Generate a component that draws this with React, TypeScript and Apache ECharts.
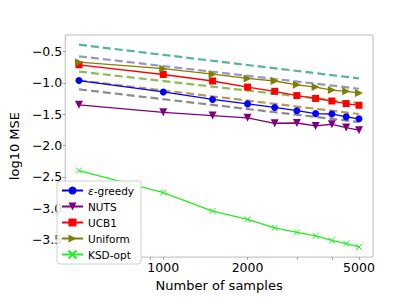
import React, { useEffect, useRef } from "react";
import * as echarts from "echarts";

const samples = [500, 1000, 1500, 2000, 2500, 3000, 3500, 4000, 4500, 5000];
const epsGreedy = [-0.964, -1.145, -1.265, -1.336, -1.393, -1.444, -1.491, -1.497, -1.543, -1.574];
const nuts = [-1.351, -1.470, -1.522, -1.559, -1.645, -1.641, -1.687, -1.661, -1.714, -1.755];
const ucb1 = [-0.712, -0.867, -0.971, -1.068, -1.135, -1.203, -1.249, -1.290, -1.331, -1.358];
const uniform = [-0.670, -0.774, -0.862, -0.929, -0.971, -1.032, -1.068, -1.115, -1.135, -1.161];
const ksdOpt = [-2.399, -2.751, -3.045, -3.178, -3.313, -3.385, -3.441, -3.514, -3.565, -3.618];

const refX = [500, 5000];
const refTeal = [-0.392, -0.929];
const refLavender = [-0.577, -1.094];
const refGreen = [-0.82, -1.324];
const refBrown = [-0.96, -1.497];
const refGray = [-1.104, -1.625];

const xLabelTicks = [1000, 2000, 5000];
const xMinorTicks = [600, 700, 800, 900, 1000, 2000, 3000, 4000, 5000];
const yTicks = [-3.5, -3, -2.5, -2, -1.5, -1, -0.5];

const FONT = "DejaVu Sans";

function pts(xs: number[], ys: number[]) {
  return xs.map((x, i) => [Math.log10(x), ys[i]]);
}

export default function App() {
  const ref = useRef<HTMLDivElement>(null);
  useEffect(() => {
    if (!ref.current) return;
    const chart = echarts.init(ref.current, undefined, { renderer: "svg" });
    const dashed = (name: string, color: string, ys: number[]) => ({
      name,
      type: "line",
      data: pts(refX, ys),
      symbol: "none",
      lineStyle: { color, width: 2.2, type: [8, 4], opacity: 0.75 },
      z: 1,
    });
    const solid = (name: string, color: string, ys: number[], symbol: string, rot: number, size: number, extra: any = {}) => ({
      name,
      type: "line",
      data: pts(samples, ys),
      symbol,
      symbolSize: size,
      symbolRotate: rot,
      showAllSymbol: true,
      color,
      lineStyle: { color, width: 1.3 },
      itemStyle: { color, ...extra },
      z: 3,
    });
    chart.setOption({
      animation: false,
      grid: {
        left: 52,
        right: 42,
        top: 35,
        bottom: 33,
        show: true,
        borderColor: "#bbbbbb",
        borderWidth: 1,
        backgroundColor: "#fff",
      },
      xAxis: {
        type: "value",
        min: 2.65,
        max: 3.749,
        name: "Number of samples",
        nameLocation: "middle",
        nameGap: 15,
        nameTextStyle: { fontFamily: FONT, fontSize: 13, color: "#000" },
        axisLine: { show: false },
        splitLine: { show: false },
        axisTick: {
          show: true,
          length: 2.5,
          lineStyle: { color: "#999" },
          customValues: xMinorTicks.map((v) => Math.log10(v)),
        },
        axisLabel: {
          customValues: xLabelTicks.map((v) => Math.log10(v)),
          formatter: (v: number) => String(Math.round(Math.pow(10, v))),
          fontFamily: FONT,
          fontSize: 12.5,
          color: "#000",
          margin: 4,
        },
      },
      yAxis: {
        type: "value",
        min: -3.78,
        max: -0.237,
        name: "log10 MSE",
        nameLocation: "middle",
        nameGap: 38,
        nameTextStyle: { fontFamily: FONT, fontSize: 13, color: "#000" },
        axisLine: { show: false },
        splitLine: { show: false },
        axisTick: {
          show: true,
          length: 2.5,
          lineStyle: { color: "#999" },
          customValues: yTicks,
        },
        axisLabel: {
          customValues: yTicks,
          formatter: (v: number) => v.toFixed(1).replace("-", "\u2212"),
          fontFamily: FONT,
          fontSize: 12.5,
          color: "#000",
          margin: 3,
        },
      },
      legend: {
        data: ["ε-greedy", "NUTS", "UCB1", "Uniform", "KSD-opt"],
        orient: "vertical",
        left: 57,
        top: 181,
        itemWidth: 21,
        itemHeight: 10,
        itemGap: 5,
        padding: [4, 7, 4, 4],
        backgroundColor: "rgba(255,255,255,0.85)",
        borderColor: "#d0d0d0",
        borderWidth: 1,
        borderRadius: 3,
        formatter: (name: string) => (name === "ε-greedy" ? "{i|ε}-greedy" : name),
        textStyle: {
          fontFamily: FONT,
          fontSize: 10.5,
          color: "#000",
          rich: { i: { fontStyle: "italic", fontFamily: FONT, fontSize: 10.5, color: "#000" } },
        },
      },
      series: [
        dashed("refTeal", "#1b9e77", refTeal),
        dashed("refLavender", "#7570b3", refLavender),
        dashed("refGreen", "#66a61e", refGreen),
        dashed("refBrown", "#a6761d", refBrown),
        dashed("refGray", "#666666", refGray),
        solid("ε-greedy", "#0000ff", epsGreedy, "circle", 0, 7),
        solid("NUTS", "#800080", nuts, "triangle", 180, 8),
        solid("UCB1", "#ff0000", ucb1, "rect", 0, 7),
        solid("Uniform", "#808000", uniform, "triangle", -90, 8),
        solid("KSD-opt", "#22ee22", ksdOpt, "path://M0,0L10,10M10,0L0,10", 0, 6, {
          borderColor: "#22ee22",
          borderWidth: 1,
        }),
      ],
    });
    return () => chart.dispose();
  }, []);
  return <div ref={ref} style={{ width: 415, height: 297, marginLeft: -8, marginTop: -8 }} />;
}
